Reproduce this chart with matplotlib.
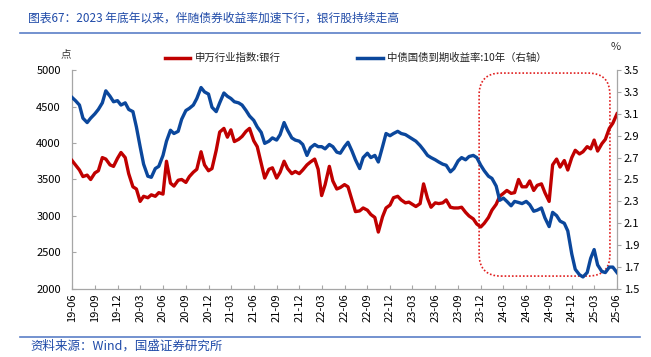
import matplotlib
matplotlib.use("Agg")
import matplotlib.pyplot as plt
import matplotlib.dates as mdates
import pandas as pd
from matplotlib.patches import FancyBboxPatch
from matplotlib.lines import Line2D

plt.rcParams["font.family"] = ["Noto Sans CJK SC", "DejaVu Sans"]

# semi-monthly sampling dates, 2019-06 .. 2025-06
dates = pd.date_range("2019-06-01", periods=145, freq="SMS")

# 申万行业指数:银行 (left axis)
bank_index = [
    3760, 3700, 3630, 3540, 3560, 3500, 3590, 3620, 3800, 3780,
    3700, 3680, 3790, 3870, 3800, 3580, 3400, 3370, 3200, 3270,
    3250, 3290, 3270, 3320, 3300, 3750, 3450, 3410, 3490, 3500,
    3460, 3540, 3600, 3640, 3880, 3700, 3620, 3650, 3900, 4150,
    4200, 4080, 4180, 4020, 4050, 4090, 4160, 4200, 4030, 3950,
    3720, 3520, 3640, 3660, 3520, 3600, 3750, 3650, 3580, 3610,
    3580, 3630, 3700, 3740, 3780, 3640, 3280, 3430, 3680, 3480,
    3370, 3390, 3430, 3400, 3220, 3060, 3070, 3110, 3080, 3020,
    2980, 2780, 2990, 3110, 3150, 3250, 3270, 3220, 3180, 3190,
    3160, 3130, 3170, 3440, 3240, 3120, 3180, 3170, 3180, 3220,
    3120, 3110, 3110, 3120, 3050, 3000, 2960, 2890, 2850, 2900,
    2980, 3080, 3160, 3270, 3310, 3350, 3310, 3320, 3500, 3400,
    3400, 3480, 3350, 3420, 3440, 3320, 3200, 3700, 3780, 3670,
    3760, 3630, 3800, 3900, 3850, 3880, 3950, 3920, 4040, 3890,
    3990, 4050, 4200, 4270, 4400,
]

# 中债国债到期收益率:10年 (right axis, %)
bond_yield = [
    3.25, 3.22, 3.18, 3.06, 3.02, 3.06, 3.10, 3.14, 3.20, 3.31,
    3.26, 3.21, 3.22, 3.18, 3.20, 3.14, 3.12, 2.98, 2.80, 2.64,
    2.53, 2.52, 2.60, 2.62, 2.72, 2.85, 2.95, 2.92, 2.94, 3.05,
    3.13, 3.15, 3.18, 3.24, 3.34, 3.30, 3.28, 3.16, 3.12, 3.20,
    3.29, 3.26, 3.24, 3.21, 3.20, 3.18, 3.13, 3.08, 3.04, 2.98,
    2.93, 2.83, 2.85, 2.88, 2.86, 2.91, 3.02, 2.95, 2.88, 2.86,
    2.85, 2.82, 2.72, 2.79, 2.82, 2.80, 2.80, 2.78, 2.82, 2.80,
    2.75, 2.74, 2.80, 2.84, 2.76, 2.68, 2.60, 2.70, 2.74, 2.70,
    2.72, 2.66, 2.80, 2.92, 2.90, 2.92, 2.94, 2.92, 2.91, 2.89,
    2.87, 2.85, 2.81, 2.77, 2.72, 2.70, 2.68, 2.66, 2.64, 2.63,
    2.57, 2.60, 2.67, 2.70, 2.68, 2.71, 2.72, 2.70, 2.63, 2.58,
    2.53, 2.51, 2.44, 2.31, 2.33, 2.30, 2.26, 2.30, 2.29, 2.28,
    2.30, 2.27, 2.21, 2.22, 2.24, 2.15, 2.07, 2.20, 2.17, 2.12,
    2.10, 2.03, 1.82, 1.68, 1.63, 1.61, 1.65, 1.78, 1.86, 1.72,
    1.66, 1.65, 1.70, 1.70, 1.65,
]

left_ticks = [2000, 2500, 3000, 3500, 4000, 4500, 5000]
right_ticks = [1.5, 1.7, 1.9, 2.1, 2.3, 2.5, 2.7, 2.9, 3.1, 3.3, 3.5]
label_bank = "申万行业指数:银行"
label_bond = "中债国债到期收益率:10年（右轴）"
title = "图表67：2023 年底年以来，伴随债券收益率加速下行，银行股持续走高"
source = "资料来源：Wind，国盛证券研究所"

red = "#C00000"
blue = "#0B479C"
grey = "#A6A6A6"
txt_blue = "#1F4AA8"

fig = plt.figure(figsize=(6.51, 3.57), dpi=100)
ax = fig.add_axes([0.1106, 0.1905, 0.8372, 0.6134])
ax2 = ax.twinx()

ax.plot(dates, bank_index, color=red, lw=2.4, zorder=3)
ax2.plot(dates, bond_yield, color=blue, lw=2.4, zorder=3)

ax.set_ylim(2000, 5000)
ax.set_yticks(left_ticks)
ax2.set_ylim(1.5, 3.5)
ax2.set_yticks(right_ticks)
ax2.set_yticklabels([f"{v:.1f}" for v in right_ticks])

ax.set_xlim(pd.Timestamp("2019-06-01"), pd.Timestamp("2025-06-01"))
ax.xaxis.set_major_locator(mdates.MonthLocator(bymonth=[3, 6, 9, 12]))
ax.xaxis.set_major_formatter(mdates.DateFormatter("%y-%m"))
for lbl in ax.get_xticklabels():
    lbl.set_rotation(90)

for a in (ax, ax2):
    a.spines["top"].set_visible(False)
    for s in ("left", "right", "bottom"):
        a.spines[s].set_color(grey)
        a.spines[s].set_linewidth(0.9)
ax.spines["right"].set_visible(False)
ax2.spines["left"].set_visible(False)
ax2.spines["bottom"].set_visible(False)

ax.tick_params(axis="y", direction="in", length=3, color=grey, labelsize=8, pad=8)
ax.tick_params(axis="x", direction="in", length=3, color=grey, labelsize=8, pad=3)
ax2.tick_params(axis="y", direction="out", length=3, color=grey, labelsize=8, pad=2)

# highlight box (dotted, rounded), in axes fraction
box = FancyBboxPatch((0.747, 0.059), 0.240, 0.927,
                     boxstyle="round,pad=0,rounding_size=0.04",
                     mutation_aspect=545 / 219, fill=False, ec="#E02020",
                     lw=1.2, ls=(0, (1, 1.2)), transform=ax.transAxes,
                     zorder=2, clip_on=False)
ax.add_patch(box)

# legend drawn by hand to match placement
fig.add_artist(Line2D([165 / 651, 190 / 651], [1 - 58 / 357] * 2, color=red, lw=2.5))
fig.text(195 / 651, 1 - 58 / 357, label_bank, fontsize=7.5, va="center", color="#222222")
fig.add_artist(Line2D([357 / 651, 383 / 651], [1 - 58 / 357] * 2, color=blue, lw=2.5))
fig.text(387 / 651, 1 - 58 / 357, label_bond, fontsize=7.5, va="center", color="#222222")

fig.text(66 / 651, 1 - 54 / 357, "点", fontsize=7.5, ha="center", va="center", color="#333333")
fig.text(616 / 651, 1 - 47 / 357, "%", fontsize=8, ha="center", va="center", color="#333333")

fig.text(28 / 651, 1 - 18 / 357, title, fontsize=8.5, color=txt_blue, va="center", style="italic")
fig.add_artist(Line2D([20 / 651, 640 / 651], [1 - 33 / 357] * 2, color="#5B7FC7", lw=1.2))
fig.add_artist(Line2D([20 / 651, 640 / 651], [1 - 337 / 357] * 2, color="#5B7FC7", lw=1.2))
fig.text(30 / 651, 1 - 346 / 357, source, fontsize=9, color=txt_blue, va="center", style="italic")

fig.savefig("out.png", dpi=100)
